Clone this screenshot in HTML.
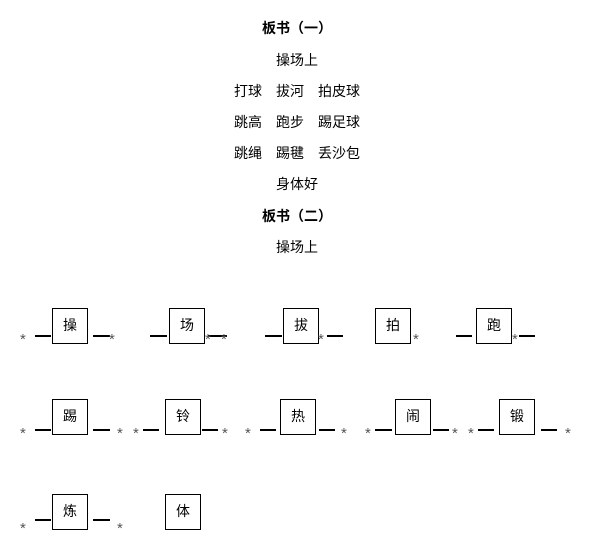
<!DOCTYPE html><html><head><meta charset="utf-8"><style>
body{margin:0;width:609px;height:549px;background:#fff;position:relative;font-family:"Liberation Sans","Noto Sans CJK SC",sans-serif;color:#000;overflow:hidden}
.t{position:absolute;left:0;width:594px;text-align:center;font-size:14px;line-height:18px;white-space:pre}
.b{font-weight:bold}
.x{position:absolute;width:34px;height:34px;border:1px solid #000;font-size:14px;line-height:32px;text-align:center}
.d{position:absolute;height:2px;background:#000}
.s{position:absolute;font-family:"Liberation Sans",sans-serif;font-size:15px;color:#555;line-height:14px;margin-top:-1px}
</style></head><body>
<div class="t b" style="top:19px">板书（一）</div>
<div class="t" style="top:51px">操场上</div>
<div class="t" style="top:82px">打球　拔河　拍皮球</div>
<div class="t" style="top:113px">跳高　跑步　踢足球</div>
<div class="t" style="top:144px">跳绳　踢毽　丢沙包</div>
<div class="t" style="top:175px">身体好</div>
<div class="t b" style="top:207px">板书（二）</div>
<div class="t" style="top:238px">操场上</div>

<div class="x" style="left:52px;top:308px">操</div>
<div class="x" style="left:169px;top:308px">场</div>
<div class="x" style="left:283px;top:308px">拔</div>
<div class="x" style="left:375px;top:308px">拍</div>
<div class="x" style="left:476px;top:308px">跑</div>
<div class="d" style="left:35px;width:16px;top:335px"></div>
<div class="d" style="left:93px;width:17px;top:335px"></div>
<div class="d" style="left:150px;width:17px;top:335px"></div>
<div class="d" style="left:208px;width:19px;top:335px"></div>
<div class="d" style="left:265px;width:17px;top:335px"></div>
<div class="d" style="left:327px;width:16px;top:335px"></div>
<div class="d" style="left:456px;width:16px;top:335px"></div>
<div class="d" style="left:519px;width:16px;top:335px"></div>
<div class="s" style="left:20px;top:334px">*</div>
<div class="s" style="left:109px;top:334px">*</div>
<div class="s" style="left:205px;top:334px">*</div>
<div class="s" style="left:221px;top:334px">*</div>
<div class="s" style="left:318px;top:334px">*</div>
<div class="s" style="left:413px;top:334px">*</div>
<div class="s" style="left:512px;top:334px">*</div>

<div class="x" style="left:52px;top:399px">踢</div>
<div class="x" style="left:165px;top:399px">铃</div>
<div class="x" style="left:280px;top:399px">热</div>
<div class="x" style="left:395px;top:399px">闹</div>
<div class="x" style="left:499px;top:399px">锻</div>
<div class="d" style="left:35px;width:16px;top:429px"></div>
<div class="d" style="left:93px;width:17px;top:429px"></div>
<div class="d" style="left:143px;width:16px;top:429px"></div>
<div class="d" style="left:202px;width:16px;top:429px"></div>
<div class="d" style="left:260px;width:16px;top:429px"></div>
<div class="d" style="left:319px;width:16px;top:429px"></div>
<div class="d" style="left:375px;width:17px;top:429px"></div>
<div class="d" style="left:433px;width:16px;top:429px"></div>
<div class="d" style="left:478px;width:16px;top:429px"></div>
<div class="d" style="left:541px;width:16px;top:429px"></div>
<div class="s" style="left:20px;top:428px">*</div>
<div class="s" style="left:117px;top:428px">*</div>
<div class="s" style="left:133px;top:428px">*</div>
<div class="s" style="left:222px;top:428px">*</div>
<div class="s" style="left:245px;top:428px">*</div>
<div class="s" style="left:341px;top:428px">*</div>
<div class="s" style="left:365px;top:428px">*</div>
<div class="s" style="left:452px;top:428px">*</div>
<div class="s" style="left:468px;top:428px">*</div>
<div class="s" style="left:565px;top:428px">*</div>

<div class="x" style="left:52px;top:494px">炼</div>
<div class="x" style="left:165px;top:494px">体</div>
<div class="d" style="left:35px;width:16px;top:519px"></div>
<div class="d" style="left:93px;width:17px;top:519px"></div>
<div class="s" style="left:20px;top:523px">*</div>
<div class="s" style="left:117px;top:523px">*</div>
</body></html>
